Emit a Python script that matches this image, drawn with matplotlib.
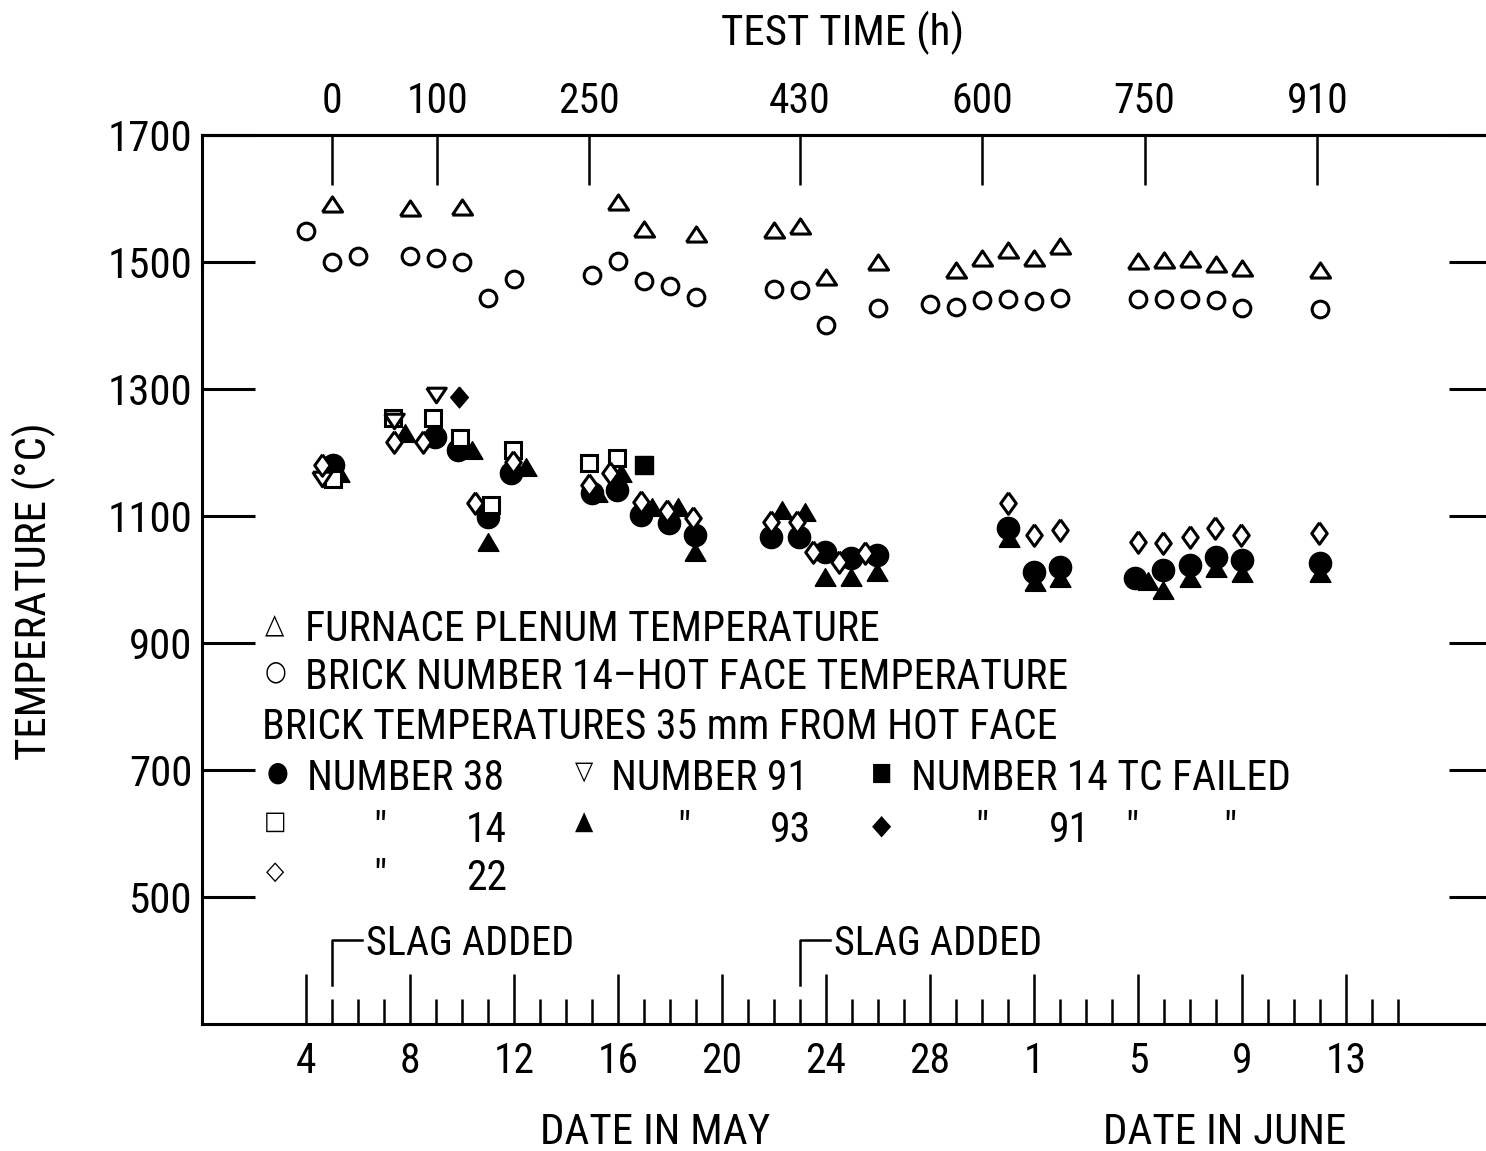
import matplotlib
matplotlib.use("Agg")
import matplotlib.pyplot as plt

plt.rcParams['font.family'] = ['Roboto Condensed', 'DejaVu Sans']
plt.rcParams['font.stretch'] = 'condensed'

# days counted from 1 May (1 June = 32)
date_ticks = [4, 8, 12, 16, 20, 24, 28, 32, 36, 40, 44]
date_labels = ["4", "8", "12", "16", "20", "24", "28", "1", "5", "9", "13"]
day_minor = list(range(5, 47))

# test time (h) reached on a given day
test_time_h = [0, 100, 250, 430, 600, 750, 910]
test_time_day = [5.0, 9.05, 14.9, 23.0, 30.0, 36.25, 42.9]

slag_days = [5, 23]

# furnace plenum (open triangles)
plenum_day = [5, 8, 10, 16, 17, 19, 22, 23, 24, 26, 29, 30, 31, 32, 33,
              36, 37, 38, 39, 40, 43]
plenum_temp = [1591, 1585, 1587, 1594, 1552, 1544, 1550, 1557, 1476, 1500,
               1487, 1506, 1519, 1506, 1525, 1502, 1503, 1505, 1497, 1491, 1487]

# brick 14 hot face (open circles)
hotface_day = [4, 5, 6, 8, 9, 10, 11, 12, 15, 16, 17, 18, 19, 22, 23, 24, 26,
               28, 29, 30, 31, 32, 33, 36, 37, 38, 39, 40, 43]
hotface_temp = [1549, 1500, 1509, 1509, 1506, 1500, 1443, 1473, 1480, 1502,
                1470, 1462, 1445, 1457, 1456, 1401, 1428, 1434, 1429, 1440,
                1442, 1439, 1443, 1442, 1442, 1442, 1440, 1428, 1426]

# bricks, 35 mm from hot face
b38_day = [5.05, 8.95, 9.85, 11.0, 11.9, 15.0, 15.95, 16.9, 17.95, 18.95,
           21.9, 22.95, 23.95, 24.95, 25.95, 31.0, 32.0, 33.0, 35.9, 36.96,
           38.0, 39.0, 40.0, 43.0]
b38_temp = [1180, 1225, 1204, 1098, 1167, 1136, 1141, 1102, 1089, 1070,
            1067, 1067, 1043, 1034, 1039, 1081, 1012, 1020, 1003, 1015,
            1023, 1035, 1031, 1026]

b14_day = [5.05, 7.36, 8.9, 9.94, 11.1, 11.95, 14.9, 15.95]
b14_temp = [1158, 1254, 1254, 1223, 1117, 1204, 1183, 1191]

b22_day = [4.6, 7.4, 8.5, 10.5, 11.95, 14.9, 15.7, 16.9, 17.9, 18.9, 21.9,
           22.9, 23.5, 24.5, 25.5, 31.0, 32.0, 33.0, 36.0, 36.96, 38.0,
           38.97, 39.96, 42.97]
b22_temp = [1180, 1216, 1217, 1120, 1185, 1149, 1167, 1122, 1108, 1097, 1091,
            1091, 1043, 1028, 1042, 1120, 1070, 1078, 1059, 1057, 1067,
            1081, 1070, 1073]

b91_day = [4.6, 7.4, 9.0]
b91_temp = [1158, 1250, 1291]

b93_day = [5.25, 7.8, 10.4, 11.0, 12.45, 15.2, 16.1, 17.3, 18.3, 18.95,
           22.3, 23.2, 23.95, 24.95, 25.95, 31.05, 32.05, 33.0, 36.4, 36.96,
           38.0, 39.0, 40.0, 43.0]
b93_temp = [1168, 1231, 1204, 1059, 1177, 1136, 1167, 1114, 1114, 1043,
            1109, 1106, 1004, 1004, 1012, 1066, 996, 1002, 998, 983,
            1002, 1018, 1010, 1010]

b14_failed_day = [17.0]
b14_failed_temp = [1180]
b91_failed_day = [9.9]
b91_failed_temp = [1288]

TRI_UP = [(-1, -0.75), (1, -0.75), (0, 0.75), (-1, -0.75)]
TRI_UP_FULL = [(-1, -0.85), (1, -0.85), (0, 0.85), (-1, -0.85)]
TRI_DOWN = [(-1, 0.75), (1, 0.75), (0, -0.75), (-1, 0.75)]
DIAMOND = [(0, 1), (0.72, 0), (0, -1), (-0.72, 0), (0, 1)]
DIAMOND_FULL = [(0, 1), (0.85, 0), (0, -1), (-0.85, 0), (0, 1)]

fig = plt.figure(figsize=(14.86, 11.51), dpi=100)
ax = fig.add_axes([202 / 1486, 127 / 1151, 1300 / 1486, 889 / 1151])

LW = 2.2
open_kw = dict(ls='none', mfc='white', mec='black', mew=LW)
full_kw = dict(ls='none', mfc='black', mec='black', mew=1)

ax.plot(plenum_day, plenum_temp, marker=TRI_UP, ms=14.5, **open_kw)
ax.plot(hotface_day, hotface_temp, marker='o', ms=12, **open_kw)

ax.plot(b93_day, b93_temp, marker=TRI_UP_FULL, ms=15, **full_kw)
ax.plot(b38_day, b38_temp, marker='o', ms=16, **full_kw)
ax.plot(b14_day, b14_temp, marker='s', ms=11.5, **open_kw)
ax.plot(b91_day, b91_temp, marker=TRI_DOWN, ms=14, **open_kw)
ax.plot(b22_day, b22_temp, marker=DIAMOND, ms=15.5, **open_kw)
ax.plot(b14_failed_day, b14_failed_temp, marker='s', ms=13, **full_kw)
ax.plot(b91_failed_day, b91_failed_temp, marker=DIAMOND_FULL, ms=15, **full_kw)

ax.set_xlim(0, 50)
ax.set_ylim(300, 1700)

for s in ax.spines.values():
    s.set_linewidth(LW)
ax.spines['right'].set_visible(False)

ax.set_xticks(date_ticks, date_labels)
ax.set_xticks(day_minor, minor=True)
ax.tick_params(axis='x', which='major', direction='in', length=36, width=1.8,
               labelsize=30, pad=12, top=False)
ax.tick_params(axis='x', which='minor', direction='in', length=18, width=1.8,
               top=False)

ax.set_yticks(range(500, 1701, 200))
ax.tick_params(axis='y', direction='in', length=38, width=LW, labelsize=31,
               pad=7, right=True)

sec = ax.secondary_xaxis('top')
sec.set_xticks(test_time_day, [str(h) for h in test_time_h])
sec.tick_params(direction='in', length=36, width=1.8, labelsize=30, pad=9)
sec.spines['top'].set_linewidth(LW)

ax.set_ylabel('TEMPERATURE (°C)', fontsize=31)
ax.yaxis.set_label_coords(-0.112, 0.487)

fig.text(843 / 1486, 1 - 33 / 1151, 'TEST TIME (h)', ha='center', va='center',
         fontsize=31)
fig.text(655 / 1486, 1 - 1132 / 1151, 'DATE IN MAY', ha='center', va='center',
         fontsize=31)
fig.text(1225 / 1486, 1 - 1132 / 1151, 'DATE IN JUNE', ha='center',
         va='center', fontsize=31)

# slag additions
for d in slag_days:
    ax.plot([d, d, d + 1.15], [361, 432, 432], color='black', lw=1.8)
    ax.text(d + 1.3, 409, 'SLAG ADDED', fontsize=29, va='baseline')

# key
fs = 30
ax.text(2.81, 927, '△', fontsize=20, ha='center', va='center')
ax.text(3.97, 903, 'FURNACE PLENUM TEMPERATURE', fontsize=fs, va='baseline')
ax.text(2.81, 854, '○', fontsize=20, ha='center', va='center')
ax.text(3.97, 827, 'BRICK NUMBER 14–HOT FACE TEMPERATURE', fontsize=fs,
        va='baseline')
ax.text(2.31, 749, 'BRICK TEMPERATURES 35 mm FROM HOT FACE', fontsize=fs,
        va='baseline')

ax.text(2.89, 695, '●', fontsize=20, ha='center', va='center')
ax.text(4.05, 668, 'NUMBER 38', fontsize=fs, va='baseline')
ax.text(14.68, 697, '▽', fontsize=19, ha='center', va='center')
ax.text(15.72, 668, 'NUMBER 91', fontsize=fs, va='baseline')
ax.text(26.13, 695, '■', fontsize=18, ha='center', va='center')
ax.text(27.28, 668, 'NUMBER 14 TC FAILED', fontsize=fs, va='baseline')

ax.text(2.81, 618, '□', fontsize=19, ha='center', va='center')
ax.text(6.86, 587, '"', fontsize=fs, ha='center', va='baseline')
ax.text(11.71, 587, '14', fontsize=fs, ha='right', va='baseline')
ax.text(14.68, 618, '▲', fontsize=19, ha='center', va='center')
ax.text(18.54, 587, '"', fontsize=fs, ha='center', va='baseline')
ax.text(23.43, 587, '93', fontsize=fs, ha='right', va='baseline')
ax.text(26.13, 612, '◆', fontsize=20, ha='center', va='center')
ax.text(29.98, 587, '"', fontsize=fs, ha='center', va='baseline')
ax.text(34.14, 587, '91', fontsize=fs, ha='right', va='baseline')
ax.text(35.76, 587, '"', fontsize=fs, ha='center', va='baseline')
ax.text(39.54, 587, '"', fontsize=fs, ha='center', va='baseline')

ax.text(2.81, 539, '◇', fontsize=19, ha='center', va='center')
ax.text(6.86, 511, '"', fontsize=fs, ha='center', va='baseline')
ax.text(11.75, 511, '22', fontsize=fs, ha='right', va='baseline')

fig.savefig('out.png', dpi=100)
